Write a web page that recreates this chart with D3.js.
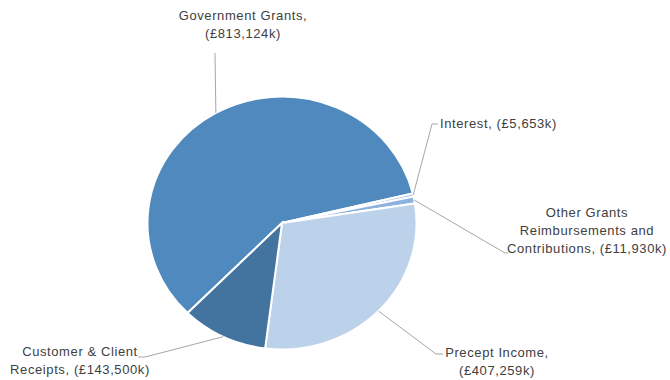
<!DOCTYPE html>
<html>
<head>
<meta charset="utf-8">
<script src="https://cdn.jsdelivr.net/npm/d3@7"></script>
<style>
  html, body { margin: 0; padding: 0; background: #fff; }
  svg { display: block; }
  text { font-family: "Liberation Sans", Arial, sans-serif; font-size: 13px; fill: #404040; letter-spacing: 0.6px; }
</style>
</head>
<body>
<svg id="chart" width="670" height="380"></svg>
<script>
// Income sources (£k), in clockwise order starting with Government Grants
const categories = [
  "Government Grants",
  "Interest",
  "Other Grants Reimbursements and Contributions",
  "Precept Income",
  "Customer & Client Receipts"
];
const values = [813124, 5653, 11930, 407259, 143500];
const valueLabels = ["(£813,124k)", "(£5,653k)", "(£11,930k)", "(£407,259k)", "(£143,500k)"];
const colors = ["#4F89BD", "#A9C2E4", "#8DB2E0", "#BCD1EA", "#43739F"];

// Label text lines for each slice
const labelLines = [
  ["Government Grants,", valueLabels[0]],
  ["Interest, " + valueLabels[1]],
  ["Other Grants", "Reimbursements and", "Contributions, " + valueLabels[2]],
  ["Precept Income,", valueLabels[3]],
  ["Customer & Client", "Receipts, " + valueLabels[4]]
];

// Label placement: text anchor point, first baseline, and leader-line knee points
const labelLayout = [
  { x: 243, y: 20, anchor: "middle", lead: [[215, 53]] },
  { x: 440, y: 128, anchor: "start", lead: [[432, 124], [438, 124]] },
  { x: 587, y: 217, anchor: "middle", lead: [[505, 253], [508, 253]] },
  { x: 497, y: 357, anchor: "middle", lead: [[436, 354], [443, 354]] },
  { x: 80, y: 356, anchor: "middle", lead: [[145, 357], [138, 357]] }
];

const svg = d3.select("#chart");
const cx = 282, cy = 223, radius = 134.5, yScale = 0.94;
const startDeg = 224.6;

const pie = d3.pie()
  .sort(null)
  .value(d => d)
  .startAngle(startDeg * Math.PI / 180)
  .endAngle(startDeg * Math.PI / 180 + 2 * Math.PI);

const arcs = pie(values);
const arc = d3.arc().innerRadius(0).outerRadius(radius);

const g = svg.append("g")
  .attr("transform", `translate(${cx},${cy}) scale(1,${yScale})`);

g.selectAll("path")
  .data(arcs)
  .join("path")
  .attr("d", arc)
  .attr("fill", (d, i) => colors[i])
  .attr("stroke", "#fff")
  .attr("stroke-width", 2)
  .attr("vector-effect", "non-scaling-stroke");

// Leader lines from each slice's outer-edge midpoint
const edgePoint = d => {
  const a = (d.startAngle + d.endAngle) / 2;
  return [cx + radius * Math.sin(a), cy - radius * Math.cos(a) * yScale];
};

const line = d3.line();
svg.append("g")
  .selectAll("path")
  .data(arcs)
  .join("path")
  .attr("d", (d, i) => line([edgePoint(d), ...labelLayout[i].lead]))
  .attr("fill", "none")
  .attr("stroke", "#A6A6A6")
  .attr("stroke-width", 1);

// Labels
const lineHeight = 18;
const labels = svg.append("g")
  .selectAll("text")
  .data(labelLines)
  .join("text")
  .attr("text-anchor", (d, i) => labelLayout[i].anchor)
  .attr("x", (d, i) => labelLayout[i].x)
  .attr("y", (d, i) => labelLayout[i].y);

labels.each(function(lines, i) {
  const t = d3.select(this);
  lines.forEach((s, k) => {
    t.append("tspan")
      .attr("x", labelLayout[i].x)
      .attr("dy", k === 0 ? 0 : lineHeight)
      .text(s);
  });
});
</script>
</body>
</html>
